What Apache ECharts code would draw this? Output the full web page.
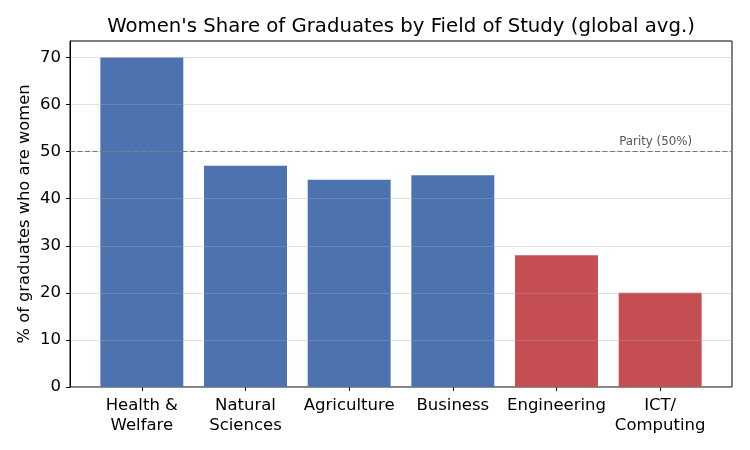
<!DOCTYPE html>
<html>
<head>
<meta charset="utf-8">
<script src="https://cdn.jsdelivr.net/npm/echarts@6/dist/echarts.min.js"></script>
<style>
  html, body { margin: 0; padding: 0; background: #fff; }
  #chart { width: 750px; height: 450px; }
</style>
</head>
<body>
<div id="chart"></div>
<script>
const categories = ['Health &\nWelfare', 'Natural\nSciences', 'Agriculture', 'Business', 'Engineering', 'ICT/\nComputing'];
const shares = [70, 47, 44, 45, 28, 20];
const yTicks = [0, 10, 20, 30, 40, 50, 60, 70];
const parity = 50;

const BLUE = '#4c72b0';
const RED = '#c44e52';
const FONT = 'DejaVu Sans';

const chart = echarts.init(document.getElementById('chart'));

// outer grid = axes frame (matplotlib-like margins), inner grid = bars
const frame = {left: 70, right: 18, top: 41, bottom: 63};
const pad = 20; // bar margin inside frame

const option = {
  animation: false,
  backgroundColor: '#fff',
  title: {
    text: "Women's Share of Graduates by Field of Study (global avg.)",
    left: 396,
    textAlign: 'center',
    top: 12,
    textStyle: {fontFamily: FONT, fontSize: 19.7, fontWeight: 'normal', color: '#000'}
  },
  grid: [
    {left: frame.left, right: frame.right, top: frame.top, bottom: frame.bottom,
      show: true, borderColor: '#000', borderWidth: 1, backgroundColor: 'transparent'},
    {left: frame.left + pad, right: frame.right + pad, top: frame.top, bottom: frame.bottom}
  ],
  xAxis: [
    {type: 'value', gridIndex: 0, min: 0, max: 1, show: false},
    {
      type: 'category', gridIndex: 1, data: categories,
      axisLine: {show: false},
      axisTick: {show: true, alignWithLabel: true, length: 4, lineStyle: {color: '#000'}},
      axisLabel: {fontFamily: FONT, fontSize: 16.5, color: '#000', margin: 9, lineHeight: 19.5, interval: 0}
    }
  ],
  yAxis: [
    {
      type: 'value', gridIndex: 0, min: 0, max: 73.5, z: 3,
      name: '% of graduates who are women', nameLocation: 'middle', nameGap: 37,
      nameMoveOverlap: false,
      nameTextStyle: {fontFamily: FONT, fontSize: 16.3, color: '#000'},
      axisLine: {show: true, lineStyle: {color: '#000'}},
      axisTick: {show: true, length: 4, customValues: yTicks, lineStyle: {color: '#000'}},
      axisLabel: {fontFamily: FONT, fontSize: 16.5, color: '#000', margin: 9, customValues: yTicks},
      splitLine: {show: true, lineStyle: {color: 'rgba(170,170,170,0.35)', width: 1}}
    },
    {type: 'value', gridIndex: 1, min: 0, max: 73.5, show: false, splitLine: {show: false}}
  ],
  series: [
    {
      type: 'bar', xAxisIndex: 1, yAxisIndex: 1,
      data: shares.map(v => ({value: v, itemStyle: {color: v < 40 ? RED : BLUE}})),
      barWidth: '80%'
    },
    {
      type: 'line', xAxisIndex: 0, yAxisIndex: 0, data: [], silent: true,
      markLine: {
        symbol: 'none', silent: true,
        lineStyle: {type: [5, 2.5], color: '#777', width: 1.1},
        label: {
          show: true, position: 'insideEndTop', formatter: 'Parity (50%)',
          fontFamily: FONT, fontSize: 11.8, color: '#555', distance: [40, 4]
        },
        data: [{yAxis: parity}]
      }
    }
  ]
};

chart.setOption(option);
</script>
</body>
</html>
